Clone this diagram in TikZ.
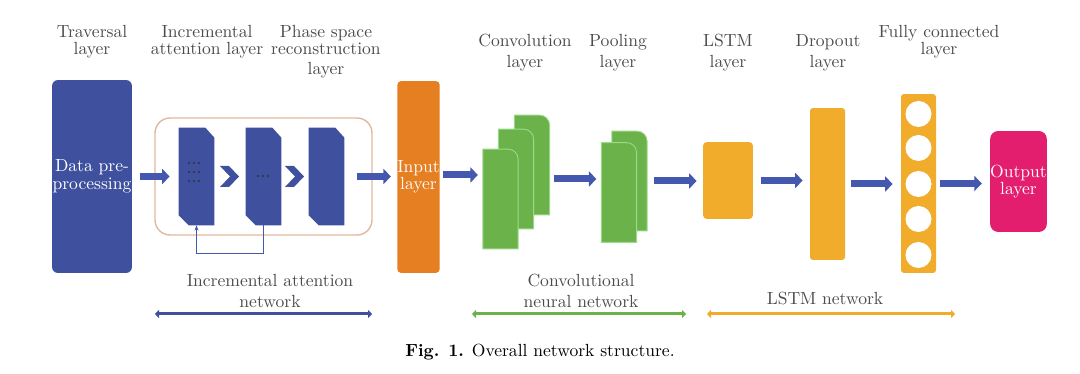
\documentclass[tikz,border=0pt]{standalone}
\usepackage{tikz}
\usetikzlibrary{arrows.meta,calc}
\definecolor{iablue}{RGB}{62,80,158}
\definecolor{arrblue}{RGB}{68,88,176}
\definecolor{inorange}{RGB}{230,126,34}
\definecolor{cnngreen}{RGB}{108,178,74}
\definecolor{lstmyellow}{RGB}{240,172,42}
\definecolor{outpink}{RGB}{228,30,110}
\definecolor{boxline}{RGB}{226,184,160}
\definecolor{labgray}{RGB}{75,75,75}

\begin{document}
\begin{tikzpicture}[x=0.02cm,y=-0.02cm,
  lab/.style={align=center,text=labgray,inner sep=0pt,font=\fontsize{10}{9.6}\selectfont},
  labwide/.style={align=center,text=labgray,inner sep=0pt,font=\fontsize{10}{12}\selectfont},
  intext/.style={align=center,text=white,inner sep=0pt,font=\fontsize{10}{10}\selectfont},
  bigarrow/.style={arrblue,line width=0.14cm,-{Triangle[length=0.15cm,width=0.3cm]}},
  span/.style={line width=0.06cm,{Triangle[length=0.08cm,width=0.16cm]}-{Triangle[length=0.08cm,width=0.16cm]}},
  slab/.style={inner sep=0pt,minimum width=0.7cm,minimum height=1.94cm},
  sheet/.style={inner sep=0pt,minimum width=0.69cm,minimum height=1.98cm}]
  \useasboundingbox (0,0) rectangle (1080,374);

  % traversal layer
  \node[fill=iablue,rounded corners=0.12cm,minimum width=1.6cm,minimum height=3.86cm,intext] (trav) at (92,176.5) {Data pre-\\processing};

  % incremental attention network
  \node[draw=boxline,line width=0.8pt,rounded corners=0.3cm,minimum width=4.34cm,minimum height=2.34cm] (iabox) at (263.5,176.5) {};
  \node[slab] (ia1) at (196.5,176.5) {};
  \node[slab] (ia2) at (263.5,176.5) {};
  \node[slab] (ps) at (326.5,176.5) {};
  \foreach \n in {ia1,ia2,ps}
    \fill[iablue] (\n.north west) -- ([xshift=-0.18cm]\n.north east) -- ([yshift=-0.2cm]\n.north east)
      -- (\n.south east) -- ([xshift=0.2cm]\n.south west) -- ([yshift=0.2cm]\n.south west) -- cycle;
  \foreach \a/\b in {ia1/ia2,ia2/ps}
    \fill[iablue] ($(\a.east)!0.5!(\b.west)$) ++(-10,-10.5) -- ++(9,0) -- ++(10,10.5)
      -- ++(-10,10.5) -- ++(-9,0) -- ++(10,-10.5) -- cycle;
  % dots inside the attention slabs
  \foreach \y in {163,172,181}
    \foreach \x in {189,194,199}
      \fill[black!80] (\x,\y) circle[radius=1.1];
  \foreach \x in {258,263,268}
    \fill[black!80] (\x,176) circle[radius=1.1];
  \draw[arrblue,line width=0.7pt,-{Stealth[length=3pt]}] (ia2.south) -- ++(0,28) -| (ia1.south);

  % input layer
  \node[fill=inorange,rounded corners=0.08cm,minimum width=0.82cm,minimum height=3.84cm,intext] (input) at (418.5,177) {Input\\layer};

  % convolutional neural network
  \node[sheet] (conv3) at (532,165) {};
  \node[sheet] (conv2) at (516,179) {};
  \node[sheet] (conv1) at (500.5,199) {};
  \node[sheet] (pool2) at (629.5,181) {};
  \node[sheet] (pool1) at (619,192.5) {};
  \foreach \n in {conv3,conv2,conv1,pool2,pool1}
    \filldraw[fill=cnngreen,draw=green!20!cnngreen!60,line width=0.5pt] (\n.south west) -- (\n.north west)
      -- ([xshift=-0.2cm]\n.north east) arc[start angle=90,end angle=0,radius=0.2cm] -- (\n.south east) -- cycle;

  % LSTM network
  \node[fill=lstmyellow,rounded corners=0.08cm,minimum width=1cm,minimum height=1.54cm] (lstm) at (728,180.5) {};
  \node[fill=lstmyellow,rounded corners=0.06cm,minimum width=0.7cm,minimum height=3.04cm] (drop) at (827.5,184) {};
  \node[fill=lstmyellow,rounded corners=0.06cm,minimum width=0.7cm,minimum height=3.58cm] (fc) at (918.5,183.5) {};
  \foreach \i/\y in {1/114,2/148,3/184,4/219,5/255}
    \node[circle,fill=white,inner sep=0pt,minimum size=0.52cm] (fc\i) at (918.5,\y) {};
  \node[fill=outpink,rounded corners=0.16cm,minimum width=1.1cm,minimum height=2.02cm,intext] (out) at (1018.5,181.5) {Output\\layer};

  % block arrows
  \draw[bigarrow,shorten <=0.16cm,shorten >=0.18cm] (trav.east) -- (trav.east -| ia1.west);
  \draw[bigarrow,shorten <=0.26cm,shorten >=0.12cm] (ps.east) -- (ps.east -| input.west);
  \draw[bigarrow,shorten <=0.06cm,shorten >=0.1cm] ([yshift=0.04cm]input.east) -- ([yshift=0.04cm]input.east -| conv1.west);
  \draw[bigarrow,shorten <=0.4cm,shorten >=0.1cm] (conv2.east) -- (conv2.east -| pool1.west);
  \draw[bigarrow,shorten <=0.14cm,shorten >=0.12cm] (pool2.east) -- (pool2.east -| lstm.west);
  \draw[bigarrow,shorten <=0.16cm,shorten >=0.14cm] (lstm.east) -- (lstm.east -| drop.west);
  \draw[bigarrow,shorten <=0.12cm,shorten >=0.16cm] (drop.east) -- (drop.east -| fc.west);
  \draw[bigarrow,shorten <=0.08cm,shorten >=0.16cm] (fc.east) -- (fc.east -| out.west);

  % layer labels
  \node[lab] (ltrav) at (92,41.5) {Traversal\\layer};
  \node[lab] (lia) at (207,42) {Incremental\\attention layer};
  \node[lab] (lps) at (326,52) {Phase space\\reconstruction\\[2pt]layer};
  \node[labwide] (lconv) at (525,52.5) {Convolution\\layer};
  \node[labwide] (lpool) at (618,52.5) {Pooling\\layer};
  \node[labwide] (llstm) at (728,52.5) {LSTM\\layer};
  \node[labwide] (ldrop) at (828,52.5) {Dropout\\layer};
  \node[lab] (lfc) at (939,41.5) {Fully connected\\layer};

  % network spans
  \node[labwide] (nia) at (270,291) {Incremental attention\\network};
  \node[labwide] (ncnn) at (581,291) {Convolutional\\neural network};
  \node[labwide] (nlstm) at (825,299) {LSTM network};
  \coordinate (ial) at (155,314);
  \coordinate (iar) at (372,314);
  \coordinate (cnnl) at (472,314);
  \coordinate (cnnr) at (686,314);
  \coordinate (lstml) at (707,314);
  \coordinate (lstmr) at (955,314);
  \draw[span,iablue] (ial) -- (iar);
  \draw[span,cnngreen] (cnnl) -- (cnnr);
  \draw[span,lstmyellow] (lstml) -- (lstmr);

  \node[font=\fontsize{10}{12}\selectfont] (cap) at (540,352) {\textbf{Fig. 1.} Overall network structure.};
\end{tikzpicture}
\end{document}
